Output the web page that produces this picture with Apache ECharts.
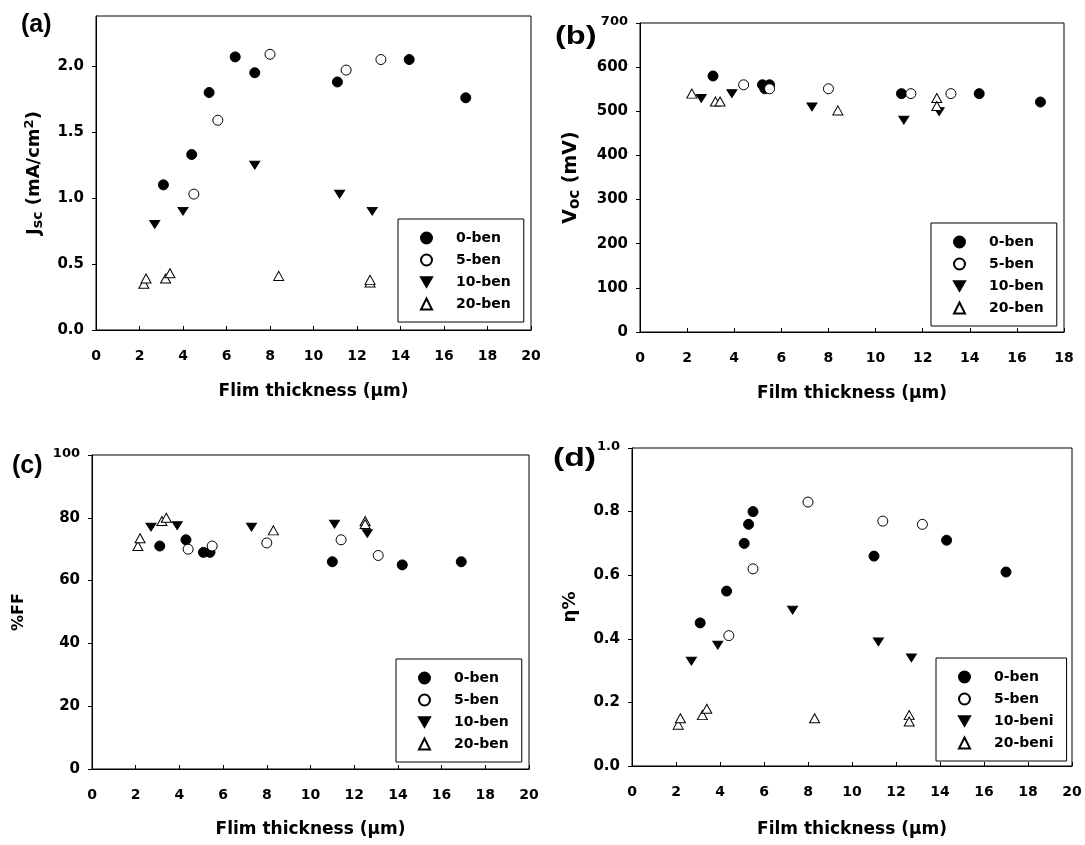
<!DOCTYPE html>
<html>
<head>
<meta charset="utf-8">
<script src="https://cdn.jsdelivr.net/npm/echarts@6/dist/echarts.min.js"></script>
<style>
  html, body { margin: 0; padding: 0; background: #fff; }
  #chart { width: 1085px; height: 845px; }
</style>
</head>
<body>
<div id="chart"></div>
<script>
// (a) Jsc vs thickness
var jscBen0 = [[3.1,1.10],[4.4,1.33],[5.2,1.80],[6.4,2.07],[7.3,1.95],[11.1,1.88],[14.4,2.05],[17.0,1.76]];
var jscBen5 = [[4.5,1.03],[5.6,1.59],[8.0,2.09],[11.5,1.97],[13.1,2.05]];
var jscBen10 = [[2.7,0.80],[4.0,0.90],[7.3,1.25],[11.2,1.03],[12.7,0.90]];
var jscBen20 = [[2.2,0.35],[2.3,0.39],[3.2,0.39],[3.4,0.43],[8.4,0.41],[12.6,0.36],[12.6,0.38]];
// (b) Voc
var vocBen0 = [[3.1,580],[5.2,560],[5.3,551],[5.5,560],[11.1,540],[14.4,540],[17.0,521]];
var vocBen5 = [[4.4,560],[5.5,551],[8.0,551],[11.5,540],[13.2,540]];
var vocBen10 = [[2.6,529],[3.9,540],[7.3,510],[11.2,480],[12.7,499]];
var vocBen20 = [[2.2,540],[3.2,522],[3.4,522],[8.4,502],[12.6,530],[12.6,512]];
// (c) %FF
var ffBen0 = [[3.1,71],[4.3,73],[5.1,69],[5.4,69],[11.0,66],[14.2,65],[16.9,66]];
var ffBen5 = [[4.4,70],[5.5,71],[8.0,72],[11.4,73],[13.1,68]];
var ffBen10 = [[2.7,77],[3.9,77.5],[7.3,77],[11.1,78],[12.6,75]];
var ffBen20 = [[2.1,71],[2.2,73.5],[3.2,79],[3.4,80],[8.3,76],[12.5,79],[12.5,78]];
// (d) efficiency
var etaBen0 = [[3.1,0.45],[4.3,0.55],[5.1,0.70],[5.3,0.76],[5.5,0.80],[11.0,0.66],[14.3,0.71],[17.0,0.61]];
var etaBen5 = [[4.4,0.41],[5.5,0.62],[8.0,0.83],[11.4,0.77],[13.2,0.76]];
var etaBen10 = [[2.7,0.33],[3.9,0.38],[7.3,0.49],[11.2,0.39],[12.7,0.34]];
var etaBen20 = [[2.1,0.13],[2.2,0.15],[3.2,0.16],[3.4,0.18],[8.3,0.15],[12.6,0.16],[12.6,0.14]];

var namesA = ['0-ben', '5-ben', '10-ben', '20-ben'];
var namesD = ['0-ben ', '5-ben ', '10-beni', '20-beni'];

var FONT = '"DejaVu Sans", Verdana, sans-serif';
var LFONT = '"Liberation Sans", Arial, sans-serif';
var downTri = 'path://M0,0L10,0L5,8.66Z';

function mk(name, data, kind, gi) {
    var s = {
        name: name,
        type: 'scatter',
        xAxisIndex: gi,
        yAxisIndex: gi,
        data: data,
        symbolKeepAspect: true,
        itemStyle: { color: '#000', borderColor: '#000', borderWidth: 1, opacity: 1 }
    };
    if (kind == 'fc') { s.symbol = 'circle'; s.symbolSize = 10; }
    if (kind == 'oc') { s.symbol = 'circle'; s.symbolSize = 10; s.itemStyle.color = '#fff'; }
    if (kind == 'fd') { s.symbol = downTri; s.symbolSize = [10, 9]; }
    if (kind == 'ot') { s.symbol = 'triangle'; s.symbolSize = [10, 9]; s.itemStyle.color = '#fff'; }
    return s;
}

function xAx(gi, max, title, gap) {
    return {
        type: 'value', gridIndex: gi, min: 0, max: max, interval: 2,
        axisLine: { lineStyle: { color: '#000', width: 1 } },
        axisTick: { inside: true, length: 4, lineStyle: { color: '#000' } },
        splitLine: { show: false },
        axisLabel: { color: '#000', fontFamily: FONT, fontWeight: 'bold', fontSize: 14, margin: 19 },
        name: title, nameLocation: 'middle', nameGap: gap,
        nameTextStyle: { color: '#000', fontFamily: FONT, fontWeight: 'bold', fontSize: 17 }
    };
}

function yAx(gi, max, interval, digits, title, gap, size) {
    return {
        type: 'value', gridIndex: gi, min: 0, max: max, interval: interval,
        axisLine: { lineStyle: { color: '#000', width: 1 } },
        axisTick: { inside: false, length: 4, lineStyle: { color: '#000' } },
        splitLine: { show: false },
        axisLabel: {
            color: '#000', fontFamily: FONT, fontWeight: 'bold', fontSize: 15, margin: 12,
            showMaxLabel: max % interval < 1e-9 || Math.abs(max % interval - interval) < 1e-9,
            formatter: function (v) {
                var t = v.toFixed(digits);
                return Math.abs(v - max) < 1e-9 ? '{t|' + t + '}' : t;
            },
            rich: { t: { fontFamily: FONT, fontWeight: 'bold', fontSize: 13, color: '#000', padding: [0, 0, 3, 0] } }
        },
        name: title, nameLocation: 'middle', nameGap: gap,
        nameTextStyle: {
            color: '#000', fontFamily: FONT, fontWeight: 'bold', fontSize: size,
            rich: {
                m: { fontFamily: FONT, fontWeight: 'bold', fontSize: size, color: '#000' },
                s: { fontFamily: FONT, fontWeight: 'bold', fontSize: size - 4, color: '#000', padding: [8, 0, 0, 0] },
                p: { fontFamily: FONT, fontWeight: 'bold', fontSize: size - 5, color: '#000', padding: [0, 0, 10, 0] }
            }
        }
    };
}

function leg(names, left, top) {
    return {
        orient: 'vertical', left: left, top: top, data: names,
        backgroundColor: '#fff', borderColor: '#000', borderWidth: 1, borderRadius: 0,
        padding: [12, 13, 11, 22], itemWidth: 11, itemHeight: 11, itemGap: 8,
        selectedMode: false,
        textStyle: { color: '#000', fontFamily: FONT, fontWeight: 'bold', fontSize: 14, padding: [0, 0, 0, 19] }
    };
}

function panel(label, x, y, sx) {
    return {
        type: 'text', x: x, y: y, scaleX: sx,
        style: { text: label, x: 0, y: 0, verticalAlign: 'top', font: 'bold 25px ' + LFONT, fill: '#000' }
    };
}

var chart = echarts.init(document.getElementById('chart'));
var option = {
    backgroundColor: '#fff',
    animation: false,
    grid: [
        { left: 96, top: 16, width: 435, height: 314, show: true, borderColor: '#000', borderWidth: 1 },
        { left: 640, top: 23, width: 424, height: 309, show: true, borderColor: '#000', borderWidth: 1 },
        { left: 92, top: 455, width: 437, height: 314, show: true, borderColor: '#000', borderWidth: 1 },
        { left: 632, top: 448, width: 440, height: 318, show: true, borderColor: '#000', borderWidth: 1 }
    ],
    xAxis: [
        xAx(0, 20, 'Flim thickness (\u03bcm)', 53),
        xAx(1, 18, 'Film thickness (\u03bcm)', 53),
        xAx(2, 20, 'Flim thickness (\u03bcm)', 52),
        xAx(3, 20, 'Film thickness (\u03bcm)', 55)
    ],
    yAxis: [
        yAx(0, 2.38, 0.5, 1, '{m|J}{s|sc}{m| (mA/cm}{p|2}{m|)}', 50, 18),
        yAx(1, 700, 100, 0, '{m|V}{s|oc}{m| (mV)}', 57, 19),
        yAx(2, 100, 20, 0, '{m|%FF}', 65, 16),
        yAx(3, 1.0, 0.2, 1, '{m|\u03b7%}', 53, 18)
    ],
    legend: [
        leg(namesA, 398, 219),
        leg(namesA, 931, 223),
        leg(namesA, 396, 659),
        leg(namesD, 936, 658)
    ],
    graphic: [
        panel('(a)', 21, 13, 1.0),
        panel('(b)', 555, 25, 1.3),
        panel('(c)', 12, 454, 1.0),
        panel('(d)', 553, 447, 1.35)
    ],
    series: [
        mk('0-ben', jscBen0, 'fc', 0),
        mk('5-ben', jscBen5, 'oc', 0),
        mk('10-ben', jscBen10, 'fd', 0),
        mk('20-ben', jscBen20, 'ot', 0),
        mk('0-ben', vocBen0, 'fc', 1),
        mk('5-ben', vocBen5, 'oc', 1),
        mk('10-ben', vocBen10, 'fd', 1),
        mk('20-ben', vocBen20, 'ot', 1),
        mk('0-ben', ffBen0, 'fc', 2),
        mk('5-ben', ffBen5, 'oc', 2),
        mk('10-ben', ffBen10, 'fd', 2),
        mk('20-ben', ffBen20, 'ot', 2),
        mk('0-ben ', etaBen0, 'fc', 3),
        mk('5-ben ', etaBen5, 'oc', 3),
        mk('10-beni', etaBen10, 'fd', 3),
        mk('20-beni', etaBen20, 'ot', 3)
    ]
};
chart.setOption(option);
</script>
</body>
</html>
